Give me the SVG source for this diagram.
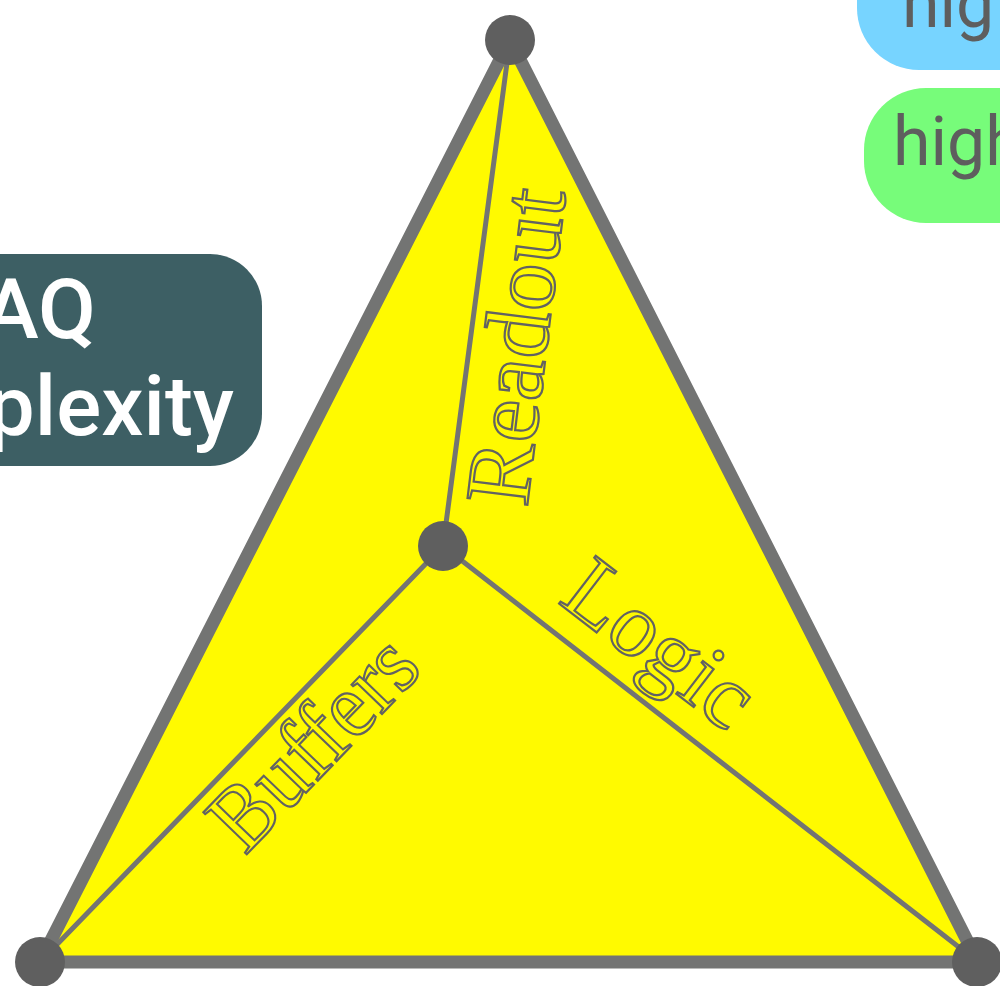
<svg xmlns="http://www.w3.org/2000/svg" width="1000" height="986" viewBox="0 0 1000 986">
  <style>
    .edge { stroke: #737473; stroke-linecap: round; fill: none; }
    .outer { stroke-width: 13; }
    .spoke { stroke-width: 5; }
    .vertex { fill: #5f5f5f; }
    .label { font-family: "Liberation Serif", "Times New Roman", serif; font-size: 92px; fill: none; stroke: #626262; stroke-width: 2.2; }
    .tag { font-family: Roboto, "Liberation Sans", sans-serif; font-size: 68px; fill: #5e5e5e; }
    .axis { font-family: Roboto, "Liberation Sans", sans-serif; font-weight: 500; font-size: 84px; fill: #ffffff; }
  </style>

  <!-- legend pills, top right -->
  <g id="pill-blue">
    <rect x="857" y="-66" width="220" height="136" rx="62" fill="#77d4ff"/>
    <text class="tag" x="902" y="27">hig</text>
  </g>
  <g id="pill-green">
    <rect x="864" y="88" width="220" height="135" rx="62" fill="#77fc7a"/>
    <text class="tag" x="893" y="165">high</text>
  </g>

  <!-- axis title box, left -->
  <g id="axis-title">
    <rect x="-120" y="254" width="382" height="212" rx="52" fill="#3d5f64"/>
    <text class="axis" x="96" y="338" text-anchor="end">DAQ</text>
    <text class="axis" x="234" y="435" text-anchor="end">complexity</text>
  </g>

  <!-- triangle body -->
  <g id="triangle">
    <polygon points="510,40 40,962 978,962" fill="#fffa00"/>
  </g>

  <!-- connectors -->
  <g id="connectors">
    <line class="edge spoke" x1="443" y1="546" x2="510" y2="40"/>
    <line class="edge spoke" x1="443" y1="546" x2="978" y2="962"/>
    <line class="edge spoke" x1="443" y1="546" x2="40" y2="962"/>
    <polygon class="edge outer" points="510,40 40,962 978,962" stroke-linejoin="round"/>
  </g>

  <!-- spoke labels -->
  <g id="label-readout">
    <text class="label" transform="translate(527,508) rotate(-83)" textLength="318" lengthAdjust="spacingAndGlyphs">Readout</text>
  </g>
  <g id="label-logic">
    <text class="label" transform="translate(557,602) rotate(37.5)" textLength="215" lengthAdjust="spacingAndGlyphs">Logic</text>
  </g>
  <g id="label-buffers">
    <text class="label" transform="translate(245,856) rotate(-46)" textLength="258" lengthAdjust="spacingAndGlyphs">Buffers</text>
  </g>

  <!-- vertices -->
  <g id="node-top"><circle class="vertex" cx="510" cy="40" r="25"/></g>
  <g id="node-left"><circle class="vertex" cx="40" cy="962" r="25"/></g>
  <g id="node-right"><circle class="vertex" cx="977" cy="962" r="25"/></g>
  <g id="node-center"><circle class="vertex" cx="443" cy="546" r="25"/></g>
</svg>
